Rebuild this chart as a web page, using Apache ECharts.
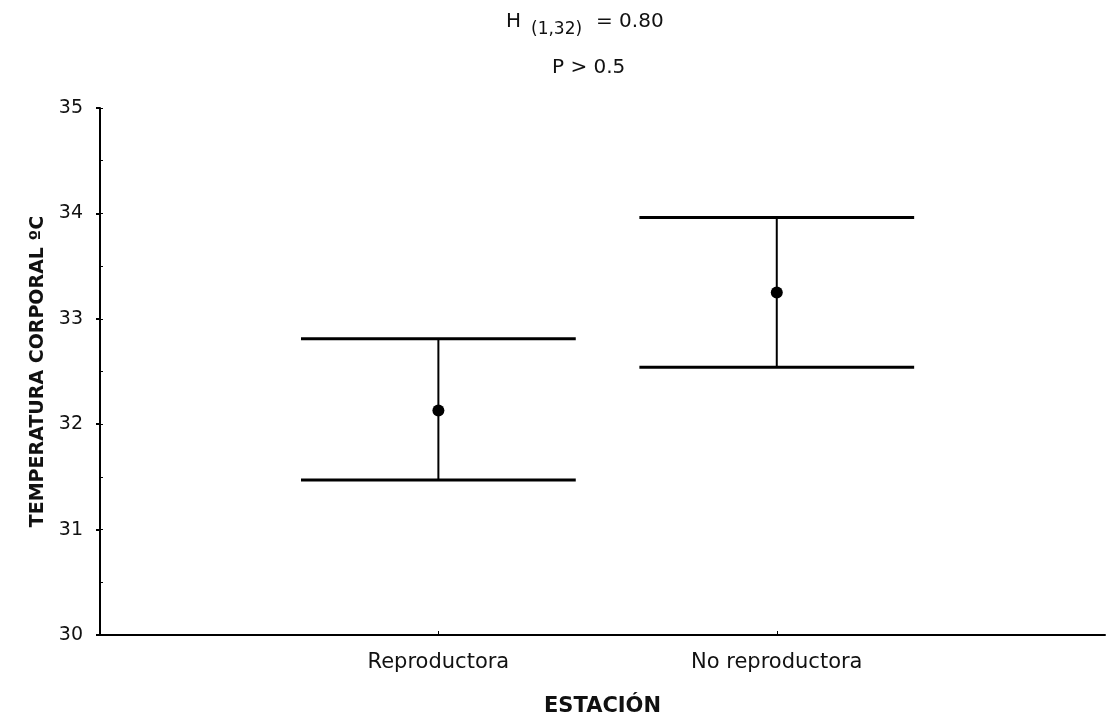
<!DOCTYPE html>
<html>
<head>
<meta charset="utf-8">
<script src="https://cdn.jsdelivr.net/npm/echarts@6/dist/echarts.min.js"></script>
<style>
  html, body { margin: 0; padding: 0; background: #fff; }
  #chart { width: 1108px; height: 723px; }
</style>
</head>
<body>
<div id="chart"></div>
<script>
// datos
var categories = ['Reproductora', 'No reproductora'];
var means = [32.13, 33.25];
var upper = [32.81, 33.96];
var lower = [31.47, 32.54];
var yTicks = [30, 31, 32, 33, 34, 35];

var font = '"DejaVu Sans", sans-serif';

var chart = echarts.init(document.getElementById('chart'));

// posiciones x 1 y 2 sobre un eje de valores
var barData = categories.map(function (c, i) {
  return [i + 1, means[i], upper[i], lower[i]];
});

chart.setOption({
  animation: false,
  grid: { left: 100, right: 3, top: 108, bottom: 88 },
  graphic: [
    { type: 'text', left: 506, top: 12, style: { text: 'H', font: '20px ' + font, fill: '#111' } },
    { type: 'text', left: 531, top: 21, style: { text: '(1,32)', font: '17px ' + font, fill: '#111' } },
    { type: 'text', left: 596, top: 12, style: { text: '= 0.80', font: '20px ' + font, fill: '#111' } },
    { type: 'text', left: 552, top: 58, style: { text: 'P > 0.5', font: '20px ' + font, fill: '#111' } }
  ],
  xAxis: {
    type: 'value',
    min: 0,
    max: 2.97,
    name: 'ESTACIÓN',
    nameLocation: 'middle',
    nameGap: 61,
    nameTextStyle: { fontFamily: font, fontWeight: 'bold', fontSize: 21, color: '#111' },
    splitLine: { show: false },
    axisLine: { lineStyle: { color: '#000', width: 2 } },
    axisTick: {
      inside: true,
      length: 4,
      lineStyle: { color: '#000', width: 1 },
      customValues: [1, 2]
    },
    axisLabel: {
      margin: 17,
      fontFamily: font,
      fontSize: 21,
      color: '#111',
      customValues: [1, 2],
      formatter: function (v) { return categories[v - 1] || ''; }
    }
  },
  yAxis: [{
    type: 'value',
    min: 30,
    max: 35,
    interval: 1,
    name: 'TEMPERATURA CORPORAL ºC',
    nameLocation: 'middle',
    nameGap: 42,
    nameTextStyle: { fontFamily: font, fontWeight: 'bold', fontSize: 19, color: '#111' },
    splitLine: { show: false },
    axisLine: { show: true, lineStyle: { color: '#000', width: 2 } },
    axisTick: { show: true, length: 4, lineStyle: { color: '#000', width: 2 } },
    axisLabel: {
      margin: 17,
      fontFamily: font,
      fontSize: 19,
      color: '#111',
      customValues: yTicks
    }
  }, {
    // ticks menores hacia dentro
    type: 'value',
    position: 'left',
    min: 30,
    max: 35,
    interval: 0.5,
    splitLine: { show: false },
    axisLine: { show: false },
    axisTick: { show: true, inside: true, length: 3, lineStyle: { color: '#000', width: 1 } },
    axisLabel: { show: false }
  }],
  series: [{
    type: 'custom',
    data: barData,
    renderItem: function (params, api) {
      var x = api.value(0);
      var pMean = api.coord([x, api.value(1)]);
      var pHi = api.coord([x, api.value(2)]);
      var pLo = api.coord([x, api.value(3)]);
      var half = api.size([1, 0])[0] * 0.406;
      var capStyle = { stroke: '#000', lineWidth: 3 };
      return {
        type: 'group',
        children: [
          { type: 'line', shape: { x1: pHi[0], y1: pHi[1], x2: pLo[0], y2: pLo[1] }, style: { stroke: '#000', lineWidth: 2 } },
          { type: 'line', shape: { x1: pHi[0] - half, y1: pHi[1], x2: pHi[0] + half, y2: pHi[1] }, style: capStyle },
          { type: 'line', shape: { x1: pLo[0] - half, y1: pLo[1], x2: pLo[0] + half, y2: pLo[1] }, style: capStyle },
          { type: 'circle', shape: { cx: pMean[0], cy: pMean[1], r: 6 }, style: { fill: '#000' } }
        ]
      };
    }
  }]
});
</script>
</body>
</html>
